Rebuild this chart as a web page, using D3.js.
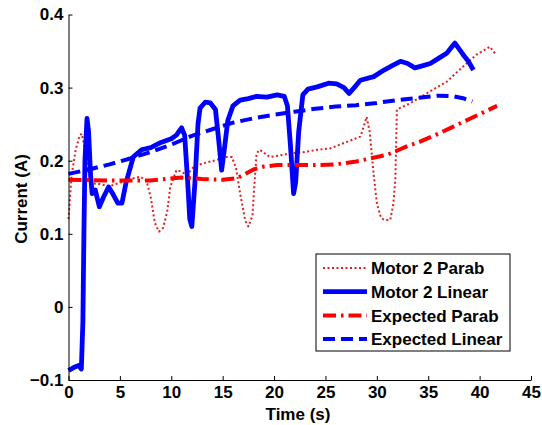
<!DOCTYPE html>
<html>
<head>
<meta charset="utf-8">
<script src="https://cdn.jsdelivr.net/npm/d3@7"></script>
<style>
  html, body { margin: 0; padding: 0; background: #fff; }
  svg { display: block; }
  text { font-family: "Liberation Sans", Arial, sans-serif; font-weight: bold; fill: #000; }
</style>
</head>
<body>
<svg id="chart" width="542" height="425"></svg>
<script>
// [time (s), current (A)]
const motorParab = [
  [0, 0.12], [0.3, 0.18], [0.7, 0.215], [1.1, 0.235], [1.3, 0.237], [1.6, 0.215], [2.0, 0.18],
  [2.4, 0.169], [3, 0.168], [4, 0.165], [5, 0.17], [6, 0.175], [7, 0.178], [7.6, 0.172],
  [8.0, 0.15], [8.4, 0.115], [8.8, 0.103], [9.2, 0.108], [9.6, 0.13], [9.9, 0.164], [10.5, 0.187],
  [11.0, 0.185], [11.5, 0.18], [12.2, 0.192], [13, 0.196], [14.4, 0.201], [15.3, 0.205],
  [15.9, 0.205], [16.3, 0.19], [16.7, 0.155], [17.2, 0.118], [17.5, 0.11], [17.9, 0.125],
  [18.1, 0.17], [18.3, 0.21], [18.6, 0.215], [19.6, 0.205], [20.5, 0.207], [21.6, 0.21],
  [23, 0.212], [24.2, 0.215], [25.5, 0.217], [26.4, 0.222], [27.5, 0.228], [28.4, 0.233],
  [28.8, 0.25], [29.0, 0.26], [29.3, 0.24], [29.7, 0.18], [30.0, 0.142], [30.4, 0.122],
  [30.7, 0.119], [31.3, 0.119], [31.6, 0.14], [31.8, 0.174], [31.95, 0.27], [33.3, 0.279],
  [35.2, 0.295], [36.8, 0.308], [38.4, 0.329], [39.7, 0.345], [41.0, 0.356], [41.3, 0.35],
  [41.5, 0.347],
];

const motorLinear = [
  [0, -0.087], [0.5, -0.083], [1.0, -0.08], [1.25, -0.085], [1.4, -0.02], [1.5, 0.1],
  [1.6, 0.2], [1.8, 0.258], [1.95, 0.24], [2.15, 0.18], [2.3, 0.155], [2.6, 0.16], [3.0, 0.137],
  [3.4, 0.15], [3.9, 0.164], [4.3, 0.155], [4.8, 0.142], [5.2, 0.142], [5.6, 0.17], [6.3, 0.205],
  [7.1, 0.215], [8, 0.218], [9, 0.225], [10, 0.23], [10.5, 0.235], [11.0, 0.245], [11.3, 0.235],
  [11.6, 0.17], [11.8, 0.12], [12.0, 0.11], [12.3, 0.17], [12.6, 0.25], [12.8, 0.272],
  [13.3, 0.28], [13.8, 0.279], [14.3, 0.27], [14.6, 0.23], [14.9, 0.187], [15.2, 0.22],
  [15.5, 0.255], [16, 0.275], [16.7, 0.283], [17.5, 0.285], [18.3, 0.288], [19.3, 0.287],
  [20.3, 0.29], [21.0, 0.288], [21.3, 0.275], [21.6, 0.22], [21.9, 0.155], [22.1, 0.17],
  [22.4, 0.24], [22.8, 0.29], [23.3, 0.298], [24.2, 0.301], [25.3, 0.306], [26.1, 0.305],
  [26.8, 0.3], [27.3, 0.292], [27.8, 0.3], [28.4, 0.31], [29.7, 0.315], [30.7, 0.324],
  [31.5, 0.33], [32.3, 0.336], [33.0, 0.333], [33.7, 0.327], [34.5, 0.33], [35.2, 0.333],
  [36.0, 0.34], [36.8, 0.347], [37.6, 0.361], [38.0, 0.353], [38.4, 0.345], [38.9, 0.336],
  [39.4, 0.324],
];

const expectedParab = [
  [0, 0.174], [4, 0.173], [8, 0.173], [11, 0.177], [13, 0.175], [15, 0.174], [16.4, 0.176],
  [17.2, 0.182], [18, 0.188], [19, 0.192], [20.3, 0.194], [22, 0.194], [24, 0.194], [26, 0.195],
  [28, 0.199], [30, 0.205], [31, 0.208], [32, 0.214], [33, 0.22], [34.2, 0.226], [36, 0.237],
  [37.5, 0.247], [39, 0.257], [40.5, 0.267], [41.7, 0.275],
];

const expectedLinear = [
  [0, 0.182], [2, 0.188], [4, 0.195], [6, 0.203], [8, 0.212], [10, 0.222], [12, 0.234],
  [14, 0.243], [16, 0.252], [18, 0.258], [20, 0.263], [22, 0.267], [24, 0.271], [26, 0.274],
  [28, 0.276], [30, 0.279], [32, 0.283], [34, 0.286], [36, 0.289], [37.5, 0.288], [38.5, 0.285],
  [39.3, 0.281],
];

const xTicks = [0, 5, 10, 15, 20, 25, 30, 35, 40, 45];
const yTicks = [-0.1, 0, 0.1, 0.2, 0.3, 0.4];

const series = [
  { name: 'Motor 2 Parab', data: motorParab, color: '#e02020', width: 2, dash: '2,2.5' },
  { name: 'Motor 2 Linear', data: motorLinear, color: '#0000ff', width: 4.8, dash: null },
  { name: 'Expected Parab', data: expectedParab, color: '#ff0000', width: 4, dash: '13,5,2.5,5' },
  { name: 'Expected Linear', data: expectedLinear, color: '#0000ff', width: 4, dash: '12,6' },
];

const svg = d3.select('#chart');

const x = d3.scaleLinear().domain([0, 45]).range([68.5, 531]);
const y = d3.scaleLinear().domain([-0.1, 0.4]).range([380, 14.5]);

const line = d3.line()
  .x(d => x(d[0]))
  .y(d => y(d[1]));

// traces
series.forEach((s) => {
  svg.append('path')
    .attr('d', line(s.data))
    .attr('fill', 'none')
    .attr('stroke', s.color)
    .attr('stroke-width', s.width)
    .attr('stroke-dasharray', s.dash)
    .attr('stroke-linejoin', 'round');
});

// axes, ticks pointing inward
const axisX = svg.append('g')
  .attr('transform', `translate(0, ${y(-0.1)})`)
  .call(d3.axisBottom(x).tickValues(xTicks).tickSizeInner(-4).tickSizeOuter(0).tickPadding(5));

const axisY = svg.append('g')
  .attr('transform', `translate(${x(0)}, 0)`)
  .call(d3.axisLeft(y).tickValues(yTicks).tickSizeInner(-4).tickSizeOuter(0).tickPadding(5)
    .tickFormat(d3.format('~g')));

[axisX, axisY].forEach((g) => {
  g.selectAll('text').style('font-size', '17px').attr('font-family', null);
  g.select('.domain').attr('stroke', '#000');
});
axisX.selectAll('text').attr('dy', '0.78em');

svg.append('text')
  .attr('x', 298)
  .attr('y', 420)
  .attr('text-anchor', 'middle')
  .style('font-size', '17px')
  .text('Time (s)');

svg.append('text')
  .attr('transform', 'translate(27, 199) rotate(-90)')
  .attr('text-anchor', 'middle')
  .style('font-size', '17px')
  .text('Current (A)');

// legend
const legend = svg.append('g').attr('transform', 'translate(316, 254)');
legend.append('rect')
  .attr('width', 194)
  .attr('height', 97)
  .attr('fill', '#fff')
  .attr('stroke', '#000')
  .attr('stroke-width', 1);

series.forEach((s, i) => {
  const row = 14 + i * 23.7;
  legend.append('line')
    .attr('x1', 7)
    .attr('x2', 51)
    .attr('y1', row)
    .attr('y2', row)
    .attr('stroke', s.color)
    .attr('stroke-width', s.width)
    .attr('stroke-dasharray', s.dash);
  legend.append('text')
    .attr('x', 55)
    .attr('y', row)
    .attr('dy', '0.36em')
    .style('font-size', '17px')
    .text(s.name);
});
</script>
</body>
</html>
